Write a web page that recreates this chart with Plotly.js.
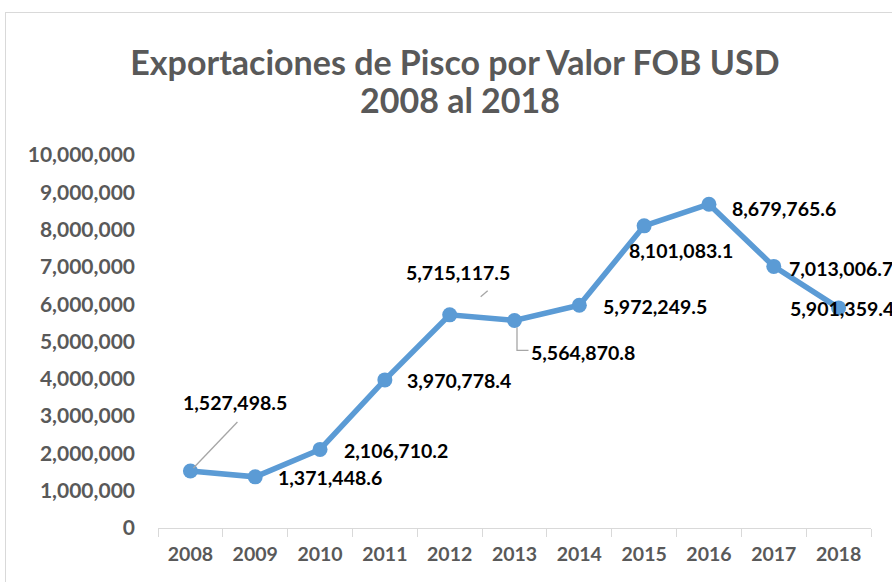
<!DOCTYPE html>
<html>
<head>
<meta charset="utf-8">
<script src="https://cdn.plot.ly/plotly-3.0.1.min.js"></script>
<style>
  html, body { margin: 0; padding: 0; background: #ffffff; overflow: hidden; }
  #frame { position: absolute; left: 5px; top: 12px; width: 1000px; height: 1000px; border: 1px solid #d9d9d9; box-sizing: border-box; }
  #chart { position: absolute; left: 0; top: 0; width: 892px; height: 582px; }
</style>
</head>
<body>
<div id="frame"></div>
<div id="chart"></div>
<script>
// ---- data ----
const years = ['2008','2009','2010','2011','2012','2013','2014','2015','2016','2017','2018'];
const fobUSD = [1527498.5, 1371448.6, 2106710.2, 3970778.4, 5715117.5, 5564870.8, 5972249.5, 8101083.1, 8679765.6, 7013006.7, 5901359.4];
const yTickVals = [0, 1000000, 2000000, 3000000, 4000000, 5000000, 6000000, 7000000, 8000000, 9000000, 10000000];
const yTickText = ['0','1,000,000','2,000,000','3,000,000','4,000,000','5,000,000','6,000,000','7,000,000','8,000,000','9,000,000','10,000,000'];
const titleLine1 = 'Exportaciones de Pisco por Valor FOB USD';
const titleLine2 = '2008 al 2018';

// ---- label placement (pixel offsets from each point) ----
const labelDX = [45, 75, 76, 74, 8, 68, 76, 37, 75, 67, 3];
const labelDY = [-69, 1, 1, 1, -42, 32, 1, 25, 4, 2, 1];

const FONT = 'Lato, "Open Sans", sans-serif';
const fmt = v => v.toLocaleString('en-US', {minimumFractionDigits: 1, maximumFractionDigits: 1});

const annotations = years.map((yr, i) => ({
  x: i, y: fobUSD[i], xref: 'x', yref: 'y',
  text: fmt(fobUSD[i]),
  font: {family: FONT, size: 19.5, color: '#000000', weight: 700},
  showarrow: false,
  xshift: labelDX[i], yshift: -labelDY[i]
}));

annotations.push({
  xref: 'paper', yref: 'paper', x: 0.4236, y: 1.1475, xanchor: 'center', yanchor: 'middle',
  text: titleLine2, showarrow: false,
  font: {family: FONT, size: 34, color: '#595959', weight: 700}
});

const leader = (idx, path) => ({
  type: 'path', xref: 'x', yref: 'y',
  xsizemode: 'pixel', ysizemode: 'pixel',
  xanchor: idx, yanchor: fobUSD[idx],
  path: path,
  line: {color: '#a6a6a6', width: 1.3}
});
const shapes = [
  leader(0, 'M 3,3 L 47,49'),
  leader(4, 'M 31,18 L 38,24'),
  leader(5, 'M 2.5,-7 L 2.5,-30 L 14,-30')
];

const trace = {
  type: 'scatter', mode: 'lines+markers',
  x: years, y: fobUSD,
  line: {color: '#5B9BD5', width: 5.5},
  marker: {color: '#5B9BD5', size: 15},
  hoverinfo: 'x+y'
};

const layout = {
  width: 892, height: 582,
  margin: {l: 158, r: 21, t: 155, b: 54},
  paper_bgcolor: 'rgba(0,0,0,0)', plot_bgcolor: 'rgba(0,0,0,0)',
  showlegend: false,
  title: {
    text: titleLine1, x: 0.51, xanchor: 'center', y: 0.8918, yanchor: 'middle',
    font: {family: FONT, size: 34, color: '#595959', weight: 700}
  },
  xaxis: {
    type: 'category', tickson: 'boundaries', ticks: 'outside', ticklen: 8,
    tickcolor: '#d9d9d9', showline: true, linecolor: '#d9d9d9', linewidth: 1.3,
    showgrid: false, zeroline: false, ticklabelstandoff: 8,
    range: [-0.5, 10.5], autorange: false,
    tickfont: {family: FONT, size: 19.5, color: '#595959', weight: 700}
  },
  yaxis: {
    range: [0, 10000000], tickmode: 'array', tickvals: yTickVals, ticktext: yTickText,
    showgrid: false, zeroline: false, showline: false, ticks: '', ticklabelstandoff: 22,
    tickfont: {family: FONT, size: 21, color: '#595959', weight: 700}
  },
  annotations: annotations,
  shapes: shapes
};

Plotly.newPlot('chart', [trace], layout, {displayModeBar: false, staticPlot: true});
</script>
</body>
</html>
